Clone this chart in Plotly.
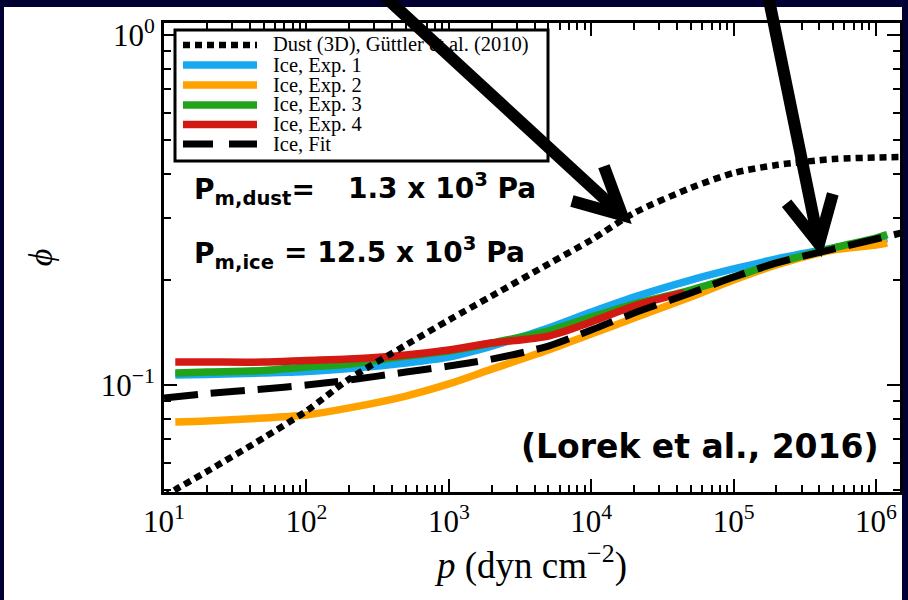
import math
import plotly.graph_objects as go

# ---------------- data ----------------
p_dust = [10, 12, 20, 50, 100, 200, 500, 1e3, 2e3, 5e3, 1e4, 2e4, 5e4, 1e5, 2e5, 5e5, 1e6, 1.5e6]
phi_dust = [0.0479, 0.0502, 0.0566, 0.0706, 0.0843, 0.104, 0.1301, 0.1533, 0.1796, 0.2216,
            0.2596, 0.31, 0.3655, 0.4034, 0.425, 0.442, 0.4465, 0.448]

p_ice = [12, 20, 50, 100, 200, 500, 1e3, 2e3, 5e3, 1e4, 2e4, 5e4, 1e5, 2e5, 5e5, 1e6, 1.2e6]
phi_exp1 = [0.1068, 0.1072, 0.1082, 0.1093, 0.1115, 0.1156, 0.1202, 0.1292, 0.1455, 0.1616,
            0.1784, 0.1995, 0.2146, 0.2291, 0.2462, 0.2585, 0.262]
phi_exp2 = [0.0784, 0.0789, 0.0805, 0.0821, 0.086, 0.093, 0.1007, 0.111, 0.1259, 0.1398,
            0.1553, 0.1784, 0.1995, 0.2203, 0.243, 0.2512, 0.2544]
phi_exp3 = [0.1082, 0.1089, 0.11, 0.1126, 0.1148, 0.121, 0.1251, 0.1318, 0.1427, 0.1564,
            0.1703, 0.1868, 0.2035, 0.2232, 0.2462, 0.263, 0.2692]

p_exp4 = [12, 20, 50, 100, 200, 500, 1e3, 2e3, 5e3, 1e4, 2e4, 4.5e4]
phi_exp4 = [0.1163, 0.1163, 0.1163, 0.1175, 0.1186, 0.1218, 0.1259, 0.1318, 0.138, 0.1514,
            0.1682, 0.1835]

p_fit = [10, 20, 50, 100, 200, 500, 1e3, 2e3, 5e3, 1e4, 2e4, 5e4, 1e5, 2e5, 5e5, 1e6, 1.5e6]
phi_fit = [0.0918, 0.0945, 0.0974, 0.1, 0.1033, 0.1089, 0.1133, 0.1186, 0.1292, 0.1436,
           0.1606, 0.1832, 0.2035, 0.2232, 0.2446, 0.2613, 0.2718]

names = ["Dust (3D), Güttler et al. (2010)", "Ice, Exp. 1", "Ice, Exp. 2",
         "Ice, Exp. 3", "Ice, Exp. 4", "Ice, Fit"]
colors = ["#000000", "#17a8f0", "#ffa200", "#20a31a", "#d21a12", "#000000"]

x_tickvals = [10, 100, 1e3, 1e4, 1e5, 1e6]
x_ticktext = ["10<sup>1</sup>", "10<sup>2</sup>", "10<sup>3</sup>",
              "10<sup>4</sup>", "10<sup>5</sup>", "10<sup>6</sup>"]
y_tickvals = [0.1, 1]
y_ticktext = ["10<sup>\u22121</sup>", "10<sup>0</sup>"]

label_dust = ["P<sub>m,dust</sub>=", "1.3 x 10<sup>3</sup> Pa"]
label_ice = ["P<sub>m,ice</sub>", "= 12.5 x 10<sup>3</sup> Pa"]
citation = "(Lorek et al., 2016)"

# ---------------- figure ----------------
W, H = 908, 600
ML, MR, MT, MB = 164, 8, 23, 108
PW, PH = W - ML - MR, H - MT - MB


def px(x):
    return (x - ML) / PW


def py(y):
    return (H - MB - y) / PH


SERIF = "Liberation Serif"
BOLD = "DejaVu Sans"

DOT = "7px,5px"
DASH = "34px,13px"
line_specs = [
    dict(color=colors[0], width=6.5, dash=DOT),
    dict(color=colors[1], width=7.5),
    dict(color=colors[2], width=7.5),
    dict(color=colors[3], width=7.5),
    dict(color=colors[4], width=7.5),
    dict(color=colors[5], width=7, dash=DASH),
]

fig = go.Figure()
series = {1: (p_ice, phi_exp1), 2: (p_ice, phi_exp2), 3: (p_ice, phi_exp3),
          4: (p_exp4, phi_exp4), 5: (p_fit, phi_fit), 0: (p_dust, phi_dust)}
for i in [1, 2, 3, 4, 5, 0]:
    xs, ys = series[i]
    fig.add_trace(go.Scatter(x=xs, y=ys, mode="lines", name=names[i], showlegend=False,
                             line=dict(**line_specs[i], shape="spline", smoothing=0.8)))

minor_x = [m * 10 ** e for e in range(1, 7) for m in range(2, 10)]
minor_y = [m * 10 ** e for e in (-2, -1) for m in range(2, 10)]

axis_common = dict(showline=True, linewidth=3, linecolor="black", mirror="ticks",
                   ticks="inside", ticklen=13, tickwidth=2, tickcolor="black",
                   showgrid=False, zeroline=False, tickmode="array",
                   tickfont=dict(family=SERIF, size=31, color="black"))

fig.update_xaxes(type="log", range=[1, 1 + PW / 142.4], tickvals=x_tickvals, ticktext=x_ticktext,
                 minor=dict(ticks="inside", ticklen=7, tickwidth=2, tickcolor="black",
                            tickvals=minor_x, showgrid=False),
                 title=dict(text="<i>p</i> (dyn cm<sup>\u22122</sup>)",
                            font=dict(family=SERIF, size=37, color="black"), standoff=6),
                 **axis_common)
fig.update_yaxes(type="log", range=[-(H - MB - 35) / 350, (35 - MT) / 350],
                 tickvals=y_tickvals, ticktext=y_ticktext,
                 minor=dict(ticks="inside", ticklen=7, tickwidth=2, tickcolor="black",
                            tickvals=minor_y, showgrid=False),
                 title=dict(text="<i>\u03d5</i>", font=dict(family=SERIF, size=34, color="black"),
                            standoff=38),
                 **axis_common)

shapes = [dict(type="rect", xref="paper", yref="paper", layer="below",
               x0=px(4), x1=px(902), y0=py(608), y1=py(7),
               fillcolor="white", line=dict(width=0))]

# legend box drawn by hand (frame, sample lines) so that its proportions match
LEG_ROWS = [45, 65, 85, 105, 124.5, 144]
shapes.append(dict(type="rect", xref="paper", yref="paper", layer="above",
                   x0=px(175), x1=px(548), y0=py(161), y1=py(30),
                   fillcolor="white", line=dict(color="black", width=3)))
leg_dash = [DOT, None, None, None, None, "30px,16px"]
for i, yr in enumerate(LEG_ROWS):
    spec = dict(color=colors[i], width=line_specs[i]["width"])
    if leg_dash[i]:
        spec["dash"] = leg_dash[i]
    shapes.append(dict(type="line", xref="paper", yref="paper", layer="above",
                       x0=px(183), x1=px(257), y0=py(yr), y1=py(yr), line=spec))


def arrow(x0, y0, xt, yt, ang=27, length=52):
    dx, dy = xt - x0, yt - y0
    n = math.hypot(dx, dy)
    ux, uy = -dx / n, -dy / n
    pts = []
    for s in (1, -1):
        a = math.radians(ang * s)
        rx = ux * math.cos(a) - uy * math.sin(a)
        ry = ux * math.sin(a) + uy * math.cos(a)
        pts.append((xt + rx * length, yt + ry * length))
    res = [dict(type="line", xref="paper", yref="paper", layer="above",
                x0=px(x0), y0=py(y0), x1=px(xt + ux * 2), y1=py(yt + uy * 2),
                line=dict(color="black", width=12))]
    path = "M {:.4f},{:.4f} L {:.4f},{:.4f} L {:.4f},{:.4f}".format(
        px(pts[0][0]), py(pts[0][1]), px(xt), py(yt), px(pts[1][0]), py(pts[1][1]))
    res.append(dict(type="path", xref="paper", yref="paper", layer="above", path=path,
                    line=dict(color="black", width=12)))
    return res


shapes += arrow(383, -5, 622, 215)
shapes += arrow(768, -5, 819, 244)

annotations = []
for i, yr in enumerate(LEG_ROWS):
    annotations.append(dict(text=names[i], x=px(272), y=py(yr), xref="paper", yref="paper",
                            xanchor="left", yanchor="middle", showarrow=False, borderpad=0,
                            font=dict(family=SERIF, size=20.5, color="black")))

txt = [
    dict(text=label_dust[0], x=px(192), y=py(191)),
    dict(text=label_dust[1], x=px(346), y=py(186)),
    dict(text=label_ice[0], x=px(192), y=py(255)),
    dict(text=label_ice[1], x=px(282), y=py(250)),
]
for a in txt:
    a.update(xref="paper", yref="paper", showarrow=False, xanchor="left", yanchor="middle",
             font=dict(family=BOLD, size=28, color="black", weight="bold"))
annotations += txt
annotations.append(dict(text=citation, x=px(700), y=py(446), xref="paper", yref="paper",
                        showarrow=False, xanchor="center", yanchor="middle",
                        font=dict(family=BOLD, size=33, color="black", weight="bold")))

fig.update_layout(
    width=W, height=H, margin=dict(l=ML, r=MR, t=MT, b=MB, autoexpand=False),
    paper_bgcolor="#000033", plot_bgcolor="white",
    shapes=shapes, annotations=annotations,
    showlegend=False,
)

fig.write_html("out.html")
